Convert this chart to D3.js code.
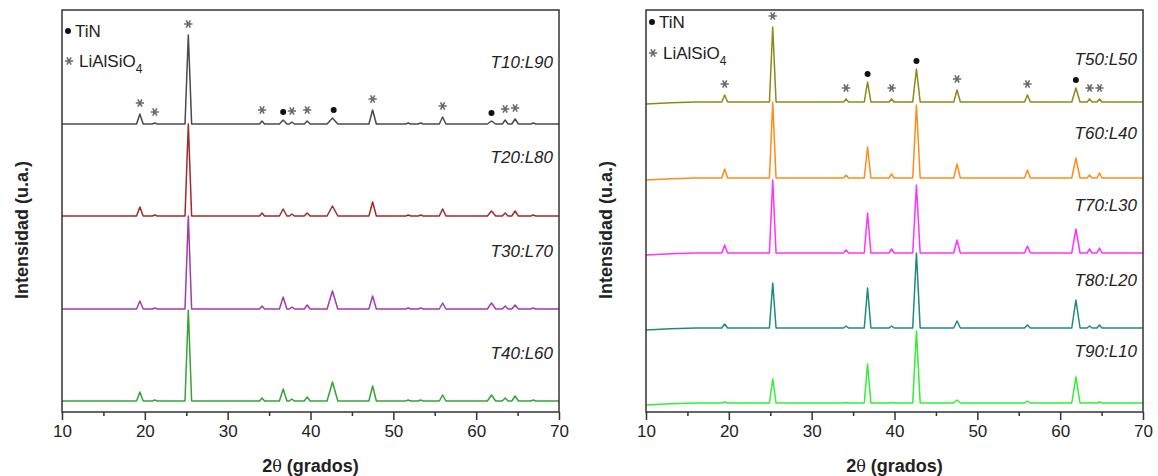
<!DOCTYPE html>
<html>
<head>
<meta charset="utf-8">
<script src="https://cdn.jsdelivr.net/npm/d3@7"></script>
<style>
  body { margin: 0; background: #fff; }
  text { font-family: "Liberation Sans", Arial, sans-serif; }
</style>
</head>
<body>
<script>
// peak positions (2theta) and heights, arbitrary units
const leftPeaks = [19.4, 21.2, 25.25, 34.15, 36.7, 37.75, 39.6, 42.65, 47.5, 51.8, 53.3, 55.95, 61.85, 63.5, 64.7, 66.9];
const leftWidths = [0.4, 0.3, 0.4, 0.3, 0.45, 0.3, 0.35, 0.65, 0.45, 0.3, 0.3, 0.4, 0.5, 0.35, 0.4, 0.3];
const t10 = [10, 1, 89, 3, 4, 2, 3, 6, 14, 1, 1, 7, 3, 4, 5, 1];
const t20 = [9, 1, 92, 3, 7, 2, 3, 10, 14, 1, 1, 7, 5, 3, 5, 1];
const t30 = [8, 1, 93, 3, 12, 2, 4, 18, 13, 1, 1, 6, 6, 3, 4, 1];
const t40 = [9, 1, 91, 3, 12, 2, 4, 19, 15, 1, 1, 6, 6, 3, 5, 1];

const rightPeaks = [19.5, 25.3, 34.15, 36.75, 39.65, 42.65, 47.55, 56.05, 61.9, 63.55, 64.75];
const rightWidths = [0.35, 0.4, 0.3, 0.4, 0.3, 0.45, 0.4, 0.35, 0.5, 0.3, 0.3];
const t50 = [7, 75, 3, 20, 3, 33, 12, 7, 14, 3, 3];
const t60 = [9, 76, 3, 31, 4, 73, 14, 8, 20, 3, 5];
const t70 = [8, 73, 3, 40, 4, 68, 13, 7, 24, 4, 5];
const t80 = [4, 45, 2, 40, 2, 75, 7, 3, 28, 2, 3];
const t90 = [1, 24, 0.5, 39, 0.5, 72, 3, 2, 26, 0.5, 1];
// low-angle background of the right patterns
const rightBackground = [[10, -2], [13, -0.8], [16, 0]];

const leftNames = ["T10:L90", "T20:L80", "T30:L70", "T40:L60"];
const rightNames = ["T50:L50", "T60:L40", "T70:L30", "T80:L20", "T90:L10"];
const leftOffsets = [288, 196, 103, 11];
const rightOffsets = [310, 234, 159, 84, 9];
const leftColors = ["#4a4a4a", "#a3282a", "#a33ca8", "#36a336"];
const rightColors = ["#8a8a1c", "#ff8c1a", "#ff33ff", "#1f8a80", "#33ee33"];
const leftLabelY = [62, 157, 251, 353];
const rightLabelY = [59, 133, 205, 280, 351];

// phase markers on the top pattern of each panel: [2theta, type]
const leftMarks = [[19.4, "*"], [21.2, "*"], [25.25, "*"], [34.15, "*"], [36.7, "o"], [37.75, "*"],
  [39.6, "*"], [42.8, "o"], [47.5, "*"], [55.95, "*"], [61.85, "o"], [63.5, "*"], [64.7, "*"]];
const rightMarks = [[19.5, "*"], [25.3, "*"], [34.15, "*"], [36.75, "o"], [39.65, "*"], [42.65, "o"],
  [47.55, "*"], [56.05, "*"], [61.9, "o"], [63.55, "*"], [64.75, "*"]];

const majorTicks = [10, 20, 30, 40, 50, 60, 70];
const minorTicks = [15, 25, 35, 45, 55, 65];

const svg = d3.select("body").append("svg")
  .attr("width", 1158)
  .attr("height", 476);

function buildPattern(peaks, widths, heights, background) {
  const pts = background ? background.slice() : [[10, 0]];
  peaks.forEach((p, i) => {
    pts.push([p - widths[i], 0], [p, heights[i]], [p + widths[i], 0]);
  });
  pts.push([70, 0]);
  return pts;
}

const starPath = d3.symbol(d3.symbolAsterisk, 48)();

function asterisk(g, cx, cy) {
  g.append("path")
    .attr("d", starPath)
    .attr("transform", `translate(${cx},${cy}) rotate(90)`)
    .attr("fill", "none")
    .attr("stroke", "#6a6a6a")
    .attr("stroke-width", 1.6);
}

function drawPanel(opts) {
  const x = d3.scaleLinear().domain([10, 70]).range([opts.x0, opts.x1]);
  const y = d3.scaleLinear().domain([0, 402]).range([412, 10]);
  const g = svg.append("g");

  const line = d3.line()
    .x(d => x(d[0]))
    .y(d => y(d[1]));

  opts.series.forEach((h, i) => {
    const pts = buildPattern(opts.peaks, opts.widths, h, opts.background)
      .map(d => [d[0], d[1] + opts.offsets[i]]);
    g.append("path")
      .attr("d", line(pts))
      .attr("fill", "none")
      .attr("stroke", opts.colors[i])
      .attr("stroke-width", 1.5)
      .attr("stroke-linejoin", "round");

    g.append("text")
      .attr("x", opts.x1 - 6)
      .attr("y", opts.labelY[i] + 6)
      .attr("text-anchor", "end")
      .attr("font-size", 17)
      .attr("font-style", "italic")
      .attr("fill", "#222")
      .text(opts.names[i]);
  });

  // markers above the top pattern
  const top = opts.series[0];
  opts.marks.forEach(m => {
    const idx = opts.peaks.findIndex(p => Math.abs(p - m[0]) < 0.3);
    const yTop = y(opts.offsets[0] + top[idx]);
    if (m[1] === "o") {
      g.append("circle")
        .attr("cx", x(m[0]))
        .attr("cy", yTop - 8)
        .attr("r", 3)
        .attr("fill", "#111");
    } else {
      asterisk(g, x(m[0]), yTop - 11);
    }
  });

  // frame
  g.append("rect")
    .attr("x", opts.x0)
    .attr("y", 10)
    .attr("width", opts.x1 - opts.x0)
    .attr("height", 402)
    .attr("fill", "none")
    .attr("stroke", "#333")
    .attr("stroke-width", 1.5);

  // axis
  const xAxis = d3.axisBottom(x).tickValues(majorTicks).tickSize(8).tickPadding(5);
  const ax = g.append("g")
    .attr("transform", "translate(0,412)")
    .call(xAxis);
  ax.select(".domain").remove();
  ax.selectAll("line").attr("stroke", "#333").attr("stroke-width", 1.5);
  ax.selectAll("text")
    .attr("font-size", 17)
    .attr("fill", "#222")
    .style("font-family", "'Liberation Sans', Arial, sans-serif");

  const minor = g.append("g")
    .attr("transform", "translate(0,412)")
    .call(d3.axisBottom(x).tickValues(minorTicks).tickSize(4).tickFormat(""));
  minor.select(".domain").remove();
  minor.selectAll("line").attr("stroke", "#333").attr("stroke-width", 1.5);

  // legend
  g.append("circle")
    .attr("cx", opts.x0 + 6)
    .attr("cy", opts.legendY[0])
    .attr("r", 3)
    .attr("fill", "#111");
  g.append("text")
    .attr("x", opts.x0 + 13)
    .attr("y", opts.legendY[0] + 6)
    .attr("font-size", 17)
    .attr("fill", "#222")
    .text("TiN");
  asterisk(g, opts.x0 + 7, opts.legendY[1]);
  const li = g.append("text")
    .attr("x", opts.x0 + 17)
    .attr("y", opts.legendY[1] + 6)
    .attr("font-size", 17)
    .attr("fill", "#222");
  li.append("tspan").text("LiAlSiO");
  li.append("tspan").attr("dy", 6).attr("font-size", 12).text("4");

  // axis titles
  const xt = g.append("text")
    .attr("x", (opts.x0 + opts.x1) / 2)
    .attr("y", 472)
    .attr("text-anchor", "middle")
    .attr("font-size", 18)
    .attr("font-weight", "bold")
    .attr("fill", "#222");
  xt.append("tspan").text("2");
  xt.append("tspan").attr("font-weight", "normal").style("font-family", "'DejaVu Serif', serif").attr("font-size", 16).text("θ");
  xt.append("tspan").text(" (grados)");

  g.append("text")
    .attr("transform", `translate(${opts.yTitleX},230) rotate(-90)`)
    .attr("text-anchor", "middle")
    .attr("font-size", 18)
    .attr("font-weight", "bold")
    .attr("fill", "#222")
    .text("Intensidad (u.a.)");
}

drawPanel({
  x0: 62, x1: 559,
  peaks: leftPeaks, widths: leftWidths,
  series: [t10, t20, t30, t40],
  offsets: leftOffsets, colors: leftColors,
  names: leftNames, labelY: leftLabelY,
  marks: leftMarks, legendY: [31, 61],
  yTitleX: 28
});

drawPanel({
  x0: 646, x1: 1143,
  peaks: rightPeaks, widths: rightWidths,
  series: [t50, t60, t70, t80, t90],
  background: rightBackground,
  offsets: rightOffsets, colors: rightColors,
  names: rightNames, labelY: rightLabelY,
  marks: rightMarks, legendY: [22, 53],
  yTitleX: 612
});
</script>
</body>
</html>
